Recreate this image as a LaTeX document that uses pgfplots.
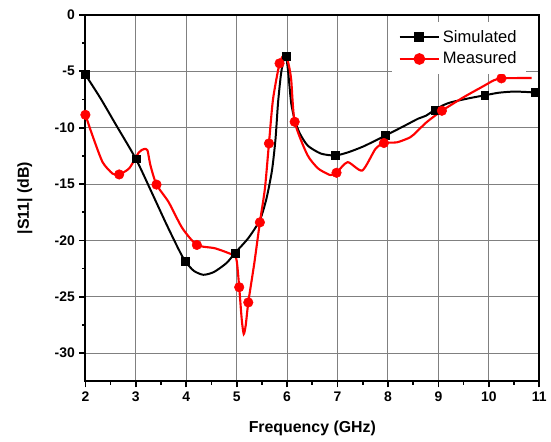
\documentclass[border=0pt]{standalone}
\usepackage{fontspec}
\setmainfont{Liberation Sans}
\usepackage{pgfplots}
\pgfplotsset{compat=1.18}
\definecolor{gridgray}{RGB}{128,128,128}

\begin{document}
\begin{tikzpicture}
\begin{axis}[
  scale only axis, width=342.75pt, height=276.75pt,
  xmin=2, xmax=11, ymin=-32.5, ymax=0,
  xtick={2,3,4,5,6,7,8,9,10,11},
  xticklabels={2,3,4,5,6,7,8,9,10,11},
  ytick={0,-5,-10,-15,-20,-25,-30},
  yticklabels={0,-5,-10,-15,-20,-25,-30},
  minor x tick num=1, minor y tick num=1,
  tick align=outside, xtick pos=bottom, ytick pos=left,
  major tick length=4.5pt, minor tick length=2.5pt,
  every tick/.style={black, line width=1.3pt},
  axis line style={line width=1.5pt},
  grid=major, major grid style={gridgray, line width=0.8pt},
  /pgf/number format/assume math mode=true,
  ticklabel style={font=\bfseries\fontsize{10.5}{12}\selectfont},
  xlabel={Frequency (GHz)}, ylabel={|S11| (dB)},
  label style={font=\bfseries\fontsize{12}{14}\selectfont},
  xlabel style={at={(axis description cs:0.5,-0.1274)}, anchor=center},
  ylabel style={at={(axis description cs:-0.1335,0.5)}, anchor=center},
  clip=false,
  legend style={draw=none, fill=white, at={(0.971,0.981)}, anchor=north east,
    font=\fontsize{12.5}{14}\selectfont, row sep=2pt, inner xsep=5pt, inner ysep=4pt},
  legend cell align=left,
  legend image code/.code={\draw[mark repeat=2,mark phase=2,#1] plot coordinates {(0pt,0pt) (15pt,0pt) (30pt,0pt)};},
]
% Simulated
\addplot[black, line width=1.5pt, smooth, tension=0.4, forget plot] coordinates {
(2.0,-5.3) (2.3,-7.4) (2.6,-9.7) (3.0,-12.76) (3.3,-15.6) (3.6,-18.5) (3.85,-20.8)
(3.98,-21.86) (4.15,-22.7) (4.34,-23.05) (4.55,-22.8) (4.8,-22.0) (4.97,-21.1)
(5.23,-19.8) (5.46,-18.2) (5.59,-16.3) (5.70,-13.8) (5.77,-11.0) (5.82,-7.8)
(5.88,-5.2) (5.94,-3.8) (5.98,-3.7) (6.02,-5.0) (6.08,-7.8) (6.15,-9.3) (6.25,-10.5)
(6.41,-11.6) (6.67,-12.3) (6.95,-12.47) (7.2,-12.2) (7.52,-11.65) (7.95,-10.7)
(8.3,-9.9) (8.6,-9.2) (8.75,-8.95) (8.93,-8.42) (9.1,-8.0) (9.25,-7.75) (9.6,-7.4)
(9.92,-7.13) (10.2,-6.9) (10.5,-6.8) (10.8,-6.85) (10.93,-6.9) (11.0,-6.9)};
\addplot[black, only marks, mark=square*, mark size=3pt, forget plot] coordinates {
(2.0,-5.3) (3.0,-12.76) (3.98,-21.86) (4.97,-21.1) (5.98,-3.7) (6.95,-12.47)
(7.95,-10.7) (8.93,-8.42) (9.92,-7.13) (10.93,-6.9)};
% Measured
\addplot[red, line width=1.6pt, smooth, tension=0.4, forget plot] coordinates {
(2.0,-8.86) (2.14,-10.7) (2.34,-13.05) (2.54,-14.08) (2.67,-14.15) (2.87,-13.6)
(3.06,-12.2) (3.16,-11.9) (3.23,-12.0) (3.29,-13.35) (3.41,-15.05) (3.65,-16.6)
(3.92,-18.9) (4.21,-20.4) (4.57,-20.7) (4.93,-21.3) (5.00,-21.8) (5.05,-24.15)
(5.10,-27.0) (5.14,-28.3) (5.18,-27.5) (5.23,-25.5) (5.35,-22.0) (5.46,-18.4)
(5.56,-15.4) (5.64,-11.4) (5.72,-7.5) (5.85,-4.3) (5.95,-3.5) (6.02,-4.2)
(6.08,-5.7) (6.15,-9.48) (6.4,-12.4) (6.61,-13.6) (6.80,-14.1) (6.87,-14.2)
(6.98,-14.0) (7.2,-13.06) (7.49,-13.8) (7.75,-11.9) (7.92,-11.36) (8.18,-11.3)
(8.44,-10.86) (8.57,-10.36) (8.77,-9.5) (9.07,-8.5) (9.5,-7.3) (9.9,-6.3)
(10.1,-5.8) (10.25,-5.63) (10.6,-5.6) (10.85,-5.6)};
\addplot[red, only marks, mark=*, mark size=3.6pt, forget plot] coordinates {
(2.0,-8.86) (2.67,-14.15) (3.41,-15.05) (4.21,-20.4) (5.05,-24.15) (5.23,-25.5)
(5.46,-18.4) (5.64,-11.4) (5.85,-4.3) (6.15,-9.48) (6.98,-14.0) (7.92,-11.36)
(9.07,-8.5) (10.25,-5.63)};
\addlegendimage{black, line width=1.5pt, mark=square*, mark size=3pt}
\addlegendentry{Simulated}
\addlegendimage{red, line width=1.6pt, mark=*, mark size=3.6pt}
\addlegendentry{Measured}
\end{axis}
\path ([xshift=-64.5pt, yshift=-45.75pt]current axis.south west)
  rectangle ([xshift=6pt, yshift=11.25pt]current axis.north east);
\end{tikzpicture}
\end{document}
